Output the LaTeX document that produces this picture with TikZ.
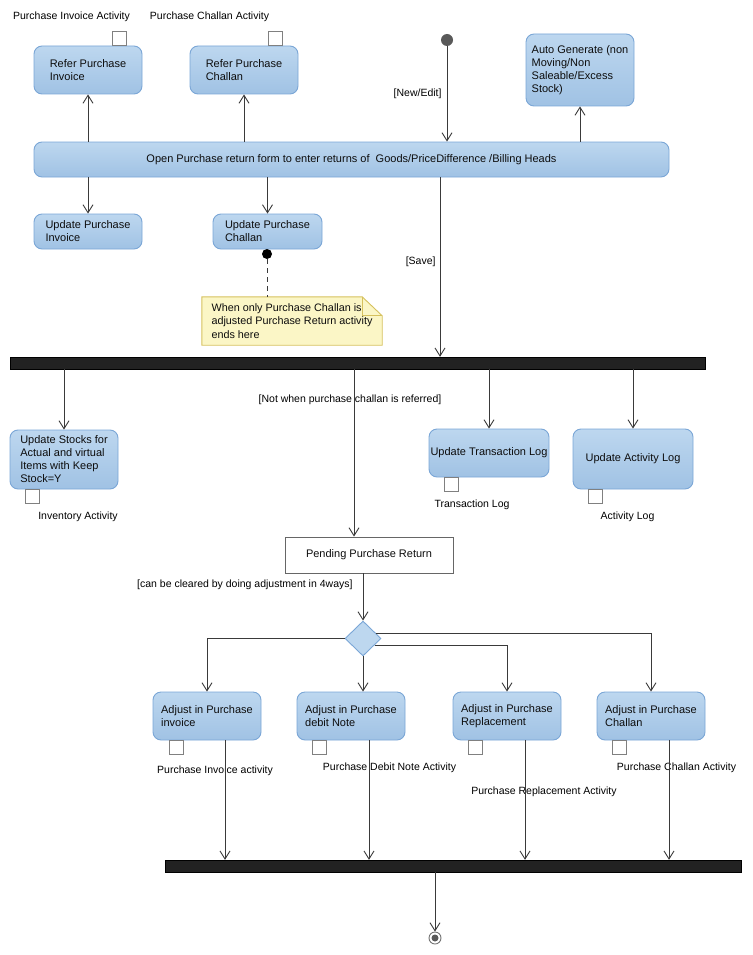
\documentclass[tikz,border=0pt]{standalone}
\usepackage{fontspec}
\setmainfont{Liberation Sans}
\usetikzlibrary{shapes.geometric,arrows.meta,calc}
\definecolor{boxtop}{HTML}{BDD7EF}
\definecolor{boxbot}{HTML}{A0C2E4}
\definecolor{boxline}{HTML}{7AA6D6}
\definecolor{noteyel}{HTML}{FBF6C6}
\definecolor{noteline}{HTML}{D6C15E}
\definecolor{barblack}{HTML}{222222}
\definecolor{wire}{HTML}{3A3A3A}

\begin{document}
\begin{tikzpicture}[x=1pt,y=-1pt,font=\fontsize{10.5}{12.5}\selectfont,
		act/.style={draw=boxline,line width=0.9pt,top color=boxtop,bottom color=boxbot,rounded corners=8pt,
			align=left,inner sep=0pt,minimum width=108pt,minimum height=48pt,
			font=\fontsize{11}{13}\selectfont,text=black!95},
		forkbar/.style={draw=black,fill=barblack,inner sep=0pt,minimum height=12pt},
		pinbox/.style={draw=black!50,line width=0.9pt,fill=white,inner sep=0pt,minimum size=14pt},
		lbl/.style={inner sep=1pt,text=black},
		flow/.style={draw=wire,line width=0.9pt,-{Straight Barb[length=8pt,width=10pt]}}]
	\useasboundingbox (0,0) rectangle (752,955);
	
	% draw top row
	\node[act] (rpi) at (88,70) {Refer Purchase\\Invoice};
	\node[act] (rpc) at (244,70) {Refer Purchase\\Challan};
	\node[act,minimum height=72pt] (auto) at (580,70) {Auto Generate (non\\Moving/Non\\Saleable/Excess\\Stock)};
	\node[circle,fill=black!65,inner sep=0pt,minimum size=12pt] (init) at (447,40) {};
	
	% draw form
	\node[act,align=center,minimum width=635pt,minimum height=35pt] (open) at (351.5,159.5)
		{Open Purchase return form to enter returns of \ Goods/PriceDifference /Billing Heads};
	\node[act,minimum height=35pt] (upi) at (88,231.5) {Update Purchase\\Invoice};
	\node[act,minimum width=109pt,minimum height=35pt] (upc) at (267.5,231.5) {Update Purchase\\Challan};
	
	% draw pins
	\node[pinbox] (pinrpi) at (119,38.5) {};
	\node[pinbox] (pinrpc) at (275,38.5) {};
	\node[lbl] (lrpi) at (71.5,17) {Purchase Invoice Activity};
	\node[lbl] (lrpc) at (209.5,17) {Purchase Challan Activity};
	
	% draw note
	\node[circle,fill=black,inner sep=0pt,minimum size=10pt] (ndot) at (267,254) {};
	\node[align=left,inner sep=0pt,minimum width=180pt,minimum height=48pt] (note) at (292,321) {};
	\fill[noteyel] (note.north west) -- ([xshift=-20pt]note.north east) -- ([yshift=-19pt]note.north east)
		-- (note.south east) -- (note.south west) -- cycle;
	\draw[noteline,line width=0.9pt] (note.north west) -- ([xshift=-20pt]note.north east) -- ([yshift=-19pt]note.north east)
		-- (note.south east) -- (note.south west) -- cycle;
	\draw[noteline,line width=0.9pt] ([xshift=-20pt]note.north east) -- ([xshift=-20pt,yshift=-19pt]note.north east)
		-- ([yshift=-19pt]note.north east);
	\node[align=left,inner sep=0pt,font=\fontsize{10.8}{13.5}\selectfont,text=black!95] (notetext) at (note)
		{When only Purchase Challan is\\adjusted Purchase Return activity\\ends here};
	\draw[wire,line width=0.9pt,dash pattern=on 5pt off 4pt] (ndot) -- (note.north -| ndot);
	
	% draw first fork
	\node[forkbar,minimum width=695pt] (bar1) at (357.5,363) {};
	\node[act,minimum height=59pt] (stocks) at (64,459.5) {Update Stocks for\\Actual and virtual\\Items with Keep\\Stock=Y};
	\node[act,minimum width=120pt] (tlog) at (489,453) {Update Transaction Log};
	\node[act,minimum width=120pt,minimum height=60pt] (alog) at (633,459) {Update Activity Log};
	\node[pinbox] (pinstk) at (32,496) {};
	\node[pinbox] (pintlg) at (451.5,484) {};
	\node[pinbox] (pinalg) at (595.5,496) {};
	\node[lbl] (lstk) at (78,517) {Inventory Activity};
	\node[lbl] (ltlg) at (472,505) {Transaction Log};
	\node[lbl] (lalg) at (627.5,517) {Activity Log};
	
	% draw pending and decision
	\node[draw=black!60,line width=0.9pt,fill=white,minimum width=168pt,minimum height=36pt,inner sep=0pt,
		font=\fontsize{11}{13}\selectfont,text=black!95] (pending) at (369,555) {Pending Purchase Return};
	\node[diamond,draw=boxline,line width=0.9pt,fill=boxtop,inner sep=0pt,minimum width=36pt,minimum height=35pt] (dia) at (363,638.5) {};
	
	% draw adjustments
	\node[act] (adj1) at (207,716) {Adjust in Purchase\\invoice};
	\node[act] (adj2) at (351,716) {Adjust in Purchase\\debit Note};
	\node[act] (adj3) at (507,716) {Adjust in Purchase\\Replacement};
	\node[act] (adj4) at (651,716) {Adjust in Purchase\\Challan};
	\node[pinbox] (pina1) at (176,747.5) {};
	\node[pinbox] (pina2) at (319.5,747.5) {};
	\node[pinbox] (pina3) at (475.5,747.5) {};
	\node[pinbox] (pina4) at (619.5,747.5) {};
	\node[lbl] (la1) at (215,771) {Purchase Invoice activity};
	\node[lbl] (la2) at (389.5,768) {Purchase Debit Note Activity};
	\node[lbl] (la3) at (544,792) {Purchase Replacement Activity};
	\node[lbl] (la4) at (676.5,768) {Purchase Challan Activity};
	
	% draw join and end
	\node[forkbar,minimum width=576pt] (bar2) at (453,866) {};
	\node[circle,draw=black!55,line width=0.9pt,fill=white,inner sep=0pt,minimum size=12pt] (fin) at (435,938) {};
	\fill[black!65] (fin) circle (3.5pt);
	
	% draw flows
	\draw[flow] (init) -- (init |- open.north) node[pos=.5,left=4pt,lbl] {[New/Edit]};
	\draw[flow] (rpi.south |- open.north) -- (rpi.south);
	\draw[flow] (rpc.south |- open.north) -- (rpc.south);
	\draw[flow] (auto.south |- open.north) -- (auto.south);
	\draw[flow] (upi.north |- open.south) -- (upi.north);
	\draw[flow] (upc.north |- open.south) -- (upc.north);
	\draw[flow] ([xshift=88.5pt]open.south) -- ([xshift=88.5pt]open.south |- bar1.north)
		node[pos=.47,left=3pt,lbl] {[Save]};
	\draw[flow] (stocks.north |- bar1.south) -- (stocks.north);
	\draw[flow] ([xshift=-15pt]pending.north |- bar1.south) -- ([xshift=-15pt]pending.north)
		node[pos=.185,xshift=-4pt,lbl] {[Not when purchase challan is referred]};
	\draw[flow] (tlog.north |- bar1.south) -- (tlog.north);
	\draw[flow] (alog.north |- bar1.south) -- (alog.north);
	\draw[flow] (dia.north |- pending.south) -- (dia.north)
		node[pos=.25,left=9pt,lbl] {[can be cleared by doing adjustment in 4ways]};
	\draw[flow] (dia.west) -| (adj1.north);
	\draw[flow] (dia.south) -- (dia.south |- adj2.north);
	\draw[flow] (dia.-30) -| (adj3.north);
	\draw[flow] (dia.20) -| (adj4.north);
	\foreach \a in {adj1,adj2,adj3,adj4}
		\draw[flow] ([xshift=18pt]\a.south) -- ([xshift=18pt]\a.south |- bar2.north);
	\draw[flow] (bar2.south -| fin) -- (fin);
\end{tikzpicture}
\end{document}
